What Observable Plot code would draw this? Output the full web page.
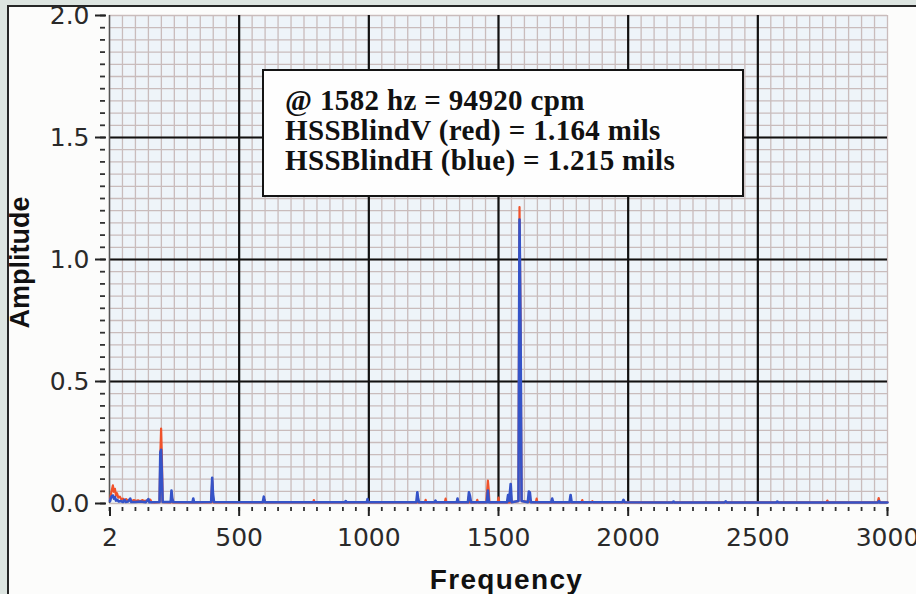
<!DOCTYPE html>
<html>
<head>
<meta charset="utf-8">
<script src="https://cdn.jsdelivr.net/npm/d3@7"></script>
<script src="https://cdn.jsdelivr.net/npm/@observablehq/plot@0.6"></script>
<style>
html, body { margin: 0; padding: 0; }
body { width: 916px; height: 594px; overflow: hidden; background: #dde5e1; }
#wrap { position: relative; width: 916px; height: 594px; }
#panel { position: absolute; left: 7px; top: 5px; right: 0; bottom: 0; background: #fcfcfb; border-left: 2px solid #262626; border-top: 2px solid #262626; }
#chart { position: absolute; left: 0; top: 0; }
#note { position: absolute; left: 262px; top: 69px; width: 457px; height: 110px; border: 2px solid #141414; background: #fefefe;
  font-family: "Liberation Serif", "Times New Roman", serif; font-weight: bold; font-size: 29px; letter-spacing: 0.35px; line-height: 30px; color: #111;
  padding: 14px 0 0 21px; box-sizing: content-box; white-space: nowrap; }
#note div { height: 30px; }
</style>
</head>
<body>
<div id="wrap">
  <div id="panel"></div>
  <div id="chart"></div>
  <div id="note"></div>
</div>
<script>
// ---- data ----
const xTicks = [2, 500, 1000, 1500, 2000, 2500, 3000];
const yTicks = [0, 0.5, 1.0, 1.5, 2.0];
const xMinor = d3.range(0, 3001, 50);
const yMinor = d3.range(0, 2.0001, 0.05);
const majorX = [500, 1000, 1500, 2000, 2500];
const majorY = [0.5, 1.0, 1.5];
const noteLines = [
  "@ 1582 hz = 94920 cpm",
  "HSSBlindV (red) = 1.164 mils",
  "HSSBlindH (blue) = 1.215 mils"
];

// HSSBlindV (red) spectrum: [frequency, amplitude]
const redSpectrum = [
  [2,0.012],[5,0.035],[9,0.055],[13,0.074],[17,0.048],[21,0.06],[25,0.032],[29,0.042],[34,0.024],[40,0.028],
  [46,0.016],[52,0.02],[58,0.012],[64,0.018],[70,0.011],[78,0.016],[86,0.01],[94,0.014],[102,0.01],[110,0.013],
  [118,0.009],[126,0.014],[134,0.01],[142,0.012],[150,0.011],[157,0.016],[162,0.006],[175,0.005],[193,0.006],
  [196,0.2],[199,0.307],[202,0.19],[205,0.006],[236,0.005],[240,0.03],[244,0.005],[392,0.005],[396,0.09],[400,0.005],
  [595,0.005],[598,0.015],[601,0.005],[785,0.005],[788,0.014],[791,0.005],[993,0.005],[996,0.012],[999,0.005],
  [1216,0.005],[1219,0.015],[1222,0.005],[1293,0.005],[1296,0.02],[1299,0.005],[1383,0.005],[1386,0.03],[1389,0.005],
  [1415,0.005],[1418,0.015],[1421,0.005],[1453,0.005],[1456,0.05],[1459,0.094],[1462,0.06],[1465,0.005],
  [1497,0.005],[1500,0.024],[1503,0.005],[1544,0.005],[1547,0.05],[1550,0.005],
  [1577,0.01],[1581,1.215],[1585,0.75],[1589,0.01],[1644,0.005],[1647,0.02],[1650,0.005],
  [1820,0.005],[1823,0.014],[1826,0.005],[1859,0.005],[1862,0.01],[1865,0.005],
  [2765,0.005],[2768,0.012],[2771,0.005],[2962,0.005],[2966,0.022],[2970,0.005],[3000,0.005]
];

// HSSBlindH (blue) spectrum: [frequency, amplitude]
const blueSpectrum = [
  [2,0.01],[5,0.022],[9,0.03],[13,0.033],[17,0.02],[21,0.026],[25,0.012],[30,0.015],[36,0.008],[44,0.01],
  [52,0.006],[58,0.015],[62,0.006],[72,0.008],[80,0.02],[84,0.006],[100,0.006],[120,0.008],[140,0.005],[150,0.018],
  [154,0.005],[193,0.006],[196,0.21],[199,0.22],[202,0.12],[205,0.006],[236,0.006],[239,0.053],[242,0.02],[246,0.006],
  [320,0.005],[323,0.02],[326,0.005],[392,0.006],[396,0.105],[399,0.04],[403,0.006],[591,0.005],[595,0.028],[599,0.005],
  [908,0.005],[911,0.01],[914,0.005],[992,0.005],[995,0.018],[998,0.005],[1183,0.005],[1187,0.046],[1190,0.02],[1194,0.005],
  [1254,0.005],[1257,0.012],[1260,0.005],[1339,0.005],[1342,0.02],[1345,0.005],[1382,0.005],[1386,0.046],[1390,0.03],[1394,0.005],
  [1455,0.005],[1459,0.053],[1463,0.005],[1533,0.005],[1537,0.035],[1541,0.01],[1547,0.08],[1551,0.005],
  [1577,0.01],[1581,1.164],[1585,0.71],[1589,0.01],[1613,0.005],[1617,0.049],[1621,0.045],[1625,0.005],
  [1703,0.005],[1707,0.02],[1711,0.005],[1774,0.005],[1778,0.035],[1782,0.005],[1978,0.005],[1982,0.015],[1986,0.005],
  [2171,0.004],[2175,0.008],[2179,0.004],[2372,0.004],[2376,0.009],[2380,0.004],[2571,0.004],[2575,0.008],[2579,0.004],
  [2963,0.004],[2967,0.01],[2971,0.004],[3000,0.004]
];

const RED = "#f0522b";
const BLUE = "#3553c8";
const GRID = "#c9bcbc";

const chart = Plot.plot({
  width: 916,
  height: 594,
  marginLeft: 109,
  marginRight: 29,
  marginTop: 15,
  marginBottom: 91,
  style: { background: "transparent", overflow: "visible", fontFamily: "DejaVu Sans" },
  x: { domain: [0, 3000] },
  y: { domain: [0, 2] },
  marks: [
    Plot.frame({ fill: "#eef4f9", stroke: null }),
    Plot.ruleX(xMinor, { stroke: GRID, strokeWidth: 1.3 }),
    Plot.ruleY(yMinor, { stroke: GRID, strokeWidth: 1.3 }),
    Plot.ruleX(majorX, { stroke: "#111", strokeWidth: 2.2 }),
    Plot.ruleY(majorY, { stroke: "#111", strokeWidth: 2.2 }),
    Plot.ruleX([0], { stroke: "#555", strokeWidth: 1.5 }),
    // minor ticks
    Plot.axisX(xMinor, { tickSize: 4, dy: 4, tickFormat: () => "", label: null, stroke: "#333", strokeWidth: 1.8 }),
    Plot.axisY(yMinor, { tickSize: 5, dx: -4, tickFormat: () => "", label: null, stroke: "#333", strokeWidth: 1.8 }),
    // major ticks + labels
    Plot.axisX(xTicks, { tickSize: 9, dy: 4, tickPadding: 12, tickFormat: d => String(d), label: null,
      fontSize: 25, fill: "#2a2a2a", stroke: "#222", strokeWidth: 2 }),
    Plot.axisY(yTicks, { tickSize: 11, dx: -3, tickPadding: 6, tickFormat: d3.format(".1f"), label: null,
      fontSize: 25, fill: "#2a2a2a", stroke: "#222", strokeWidth: 2 }),
    // spectra
    Plot.line(redSpectrum, { x: d => d[0], y: d => d[1], stroke: RED, strokeWidth: 2.2 }),
    Plot.line(blueSpectrum, { x: d => d[0], y: d => d[1], stroke: BLUE, strokeWidth: 2.6 }),
    // axis titles
    Plot.text(["Amplitude"], { frameAnchor: "left", textAnchor: "middle", rotate: -90, dx: -89, dy: 3, fontSize: 27,
      fontWeight: "bold", fontFamily: "Liberation Sans", fill: "#111" }),
    Plot.text(["Frequency"], { frameAnchor: "bottom", textAnchor: "middle", lineAnchor: "bottom", dx: 8, dy: 85,
      fontSize: 28, fontWeight: "bold", fontFamily: "Liberation Sans", fill: "#111" })
  ]
});

// widen the horizontal title slightly, as in the reference
d3.select(chart).selectAll("text").filter(function () { return this.textContent === "Frequency"; })
  .style("letter-spacing", "1.3px");

document.getElementById("chart").appendChild(chart);
const note = document.getElementById("note");
for (const t of noteLines) {
  const d = document.createElement("div");
  d.textContent = t;
  note.appendChild(d);
}
</script>
</body>
</html>
